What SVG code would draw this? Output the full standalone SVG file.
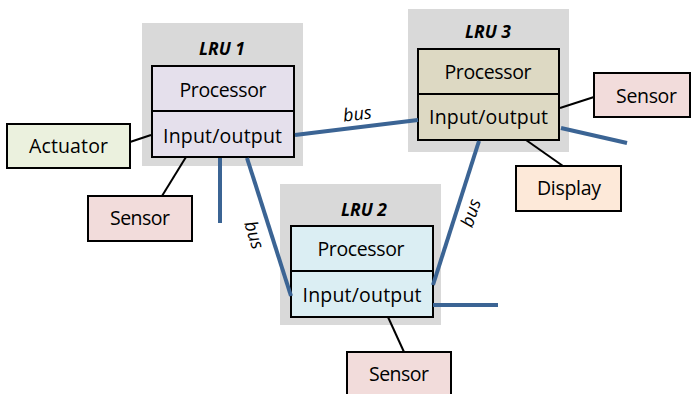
<svg xmlns="http://www.w3.org/2000/svg" width="692" height="394" viewBox="0 0 692 394">
<style>
.bg{fill:#d9d9d9}
.box{stroke:#000;stroke-width:2}
.t{font-family:"Open Sans","Liberation Sans",sans-serif;font-size:19.5px;fill:#000;text-anchor:middle}
.lru{font-family:"Open Sans","Liberation Sans",sans-serif;font-size:17.5px;font-weight:bold;font-style:italic;fill:#000;text-anchor:middle}
.bl{font-family:"Open Sans","Liberation Sans",sans-serif;font-size:18px;font-style:italic;fill:#000;text-anchor:middle}
.bus{stroke:#3b6494;stroke-width:4;fill:none}
.wire{stroke:#000;stroke-width:2;fill:none}
</style>
<rect width="692" height="394" fill="#fff"/>
<g id="lru1">
<rect class="bg" x="142" y="23" width="161" height="143"/>
<text class="lru" x="222" y="55">LRU 1</text>
<rect class="box" x="152" y="66" width="142" height="91" fill="#e5e0ec"/>
<line class="box" x1="152" y1="111" x2="294" y2="111"/>
<text class="t" x="223" y="97" textLength="87">Processor</text>
<text class="t" x="222.5" y="143" textLength="119">Input/output</text>
</g>
<g id="lru3">
<rect class="bg" x="408" y="9" width="161" height="143"/>
<text class="lru" x="488" y="38">LRU 3</text>
<rect class="box" x="418" y="49" width="141" height="91" fill="#ddd9c3"/>
<line class="box" x1="418" y1="94" x2="559" y2="94"/>
<text class="t" x="488" y="79" textLength="87">Processor</text>
<text class="t" x="488.5" y="124" textLength="119">Input/output</text>
</g>
<g id="lru2">
<rect class="bg" x="280" y="184" width="161" height="141"/>
<text class="lru" x="364" y="216">LRU 2</text>
<rect class="box" x="291" y="226" width="142" height="91" fill="#dbeef3"/>
<line class="box" x1="291" y1="271" x2="433" y2="271"/>
<text class="t" x="361" y="256" textLength="87">Processor</text>
<text class="t" x="362" y="302" textLength="119">Input/output</text>
</g>
<g id="actuator">
<rect class="box" x="7" y="124" width="123" height="44" fill="#ebf1de"/>
<text class="t" x="68.5" y="153" textLength="79">Actuator</text>
</g>
<g id="sensor1">
<rect class="box" x="88" y="196" width="104" height="45" fill="#f2dcdb"/>
<text class="t" x="140" y="225" textLength="60">Sensor</text>
</g>
<g id="sensor3">
<rect class="box" x="594" y="73" width="96" height="44" fill="#f2dcdb"/>
<text class="t" x="646.5" y="103" textLength="61">Sensor</text>
</g>
<g id="display">
<rect class="box" x="516" y="166" width="105" height="45" fill="#fde9d9"/>
<text class="t" x="569" y="195" textLength="64">Display</text>
</g>
<g id="sensor2">
<rect class="box" x="347" y="352" width="104" height="45" fill="#f2dcdb"/>
<text class="t" x="399" y="381" textLength="60">Sensor</text>
</g>
<g id="connectors">
<line class="wire" x1="130" y1="142" x2="151" y2="135"/>
<line class="wire" x1="162" y1="196" x2="186" y2="157"/>
<line class="wire" x1="560" y1="108" x2="594" y2="97"/>
<line class="wire" x1="526" y1="140" x2="563" y2="166"/>
<line class="wire" x1="388" y1="317" x2="404" y2="352"/>
<line class="bus" x1="220" y1="158" x2="220" y2="223"/>
<line class="bus" x1="295" y1="135" x2="418" y2="120"/>
<line class="bus" x1="247" y1="158" x2="291" y2="296"/>
<line class="bus" x1="479" y1="141" x2="433" y2="285"/>
<line class="bus" x1="433" y1="305" x2="498" y2="305"/>
<line class="bus" x1="561" y1="128" x2="627" y2="143"/>
<text class="bl" x="358" y="120" transform="rotate(-7 358 120)">bus</text>
<text class="bl" transform="translate(254 235) rotate(72)" y="6">bus</text>
<text class="bl" transform="translate(471 213) rotate(-72)" y="6">bus</text>
</g>
</svg>
